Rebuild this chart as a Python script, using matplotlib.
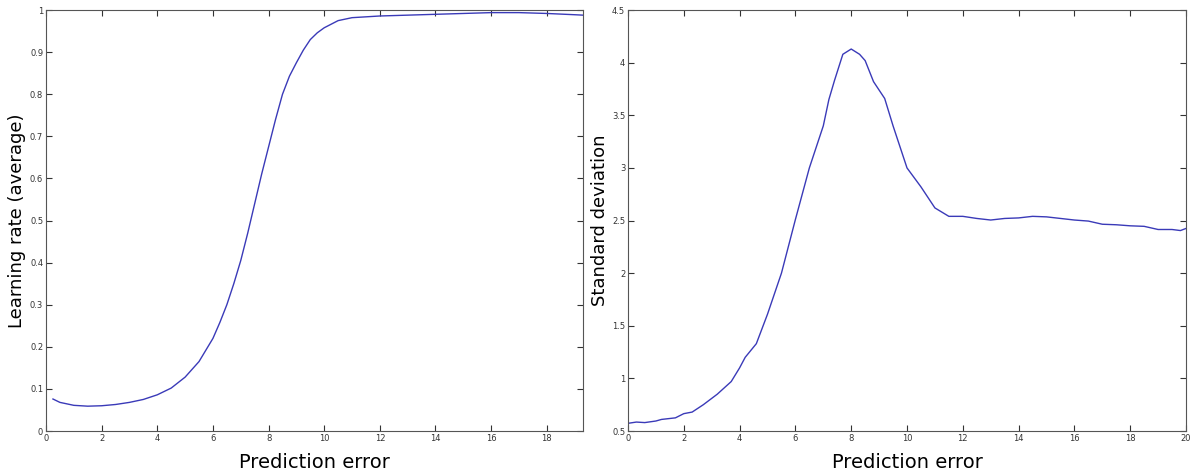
import matplotlib.pyplot as plt
import numpy as np

# left panel: average learning rate vs prediction error
lr_x = [0.25, 0.5, 1, 1.5, 2, 2.5, 3, 3.5, 4, 4.5, 5, 5.5, 6, 6.25, 6.5, 6.75,
        7, 7.25, 7.5, 7.75, 8, 8.25, 8.5, 8.75, 9, 9.25, 9.5, 9.75, 10, 10.5,
        11, 12, 13, 14, 15, 16, 17, 18, 19, 19.3]
lr_y = [0.076, 0.068, 0.061, 0.059, 0.060, 0.063, 0.068, 0.075, 0.086, 0.102,
        0.128, 0.165, 0.22, 0.258, 0.30, 0.35, 0.405, 0.47, 0.54, 0.61, 0.675,
        0.74, 0.80, 0.843, 0.875, 0.905, 0.93, 0.946, 0.958, 0.975, 0.982,
        0.986, 0.988, 0.990, 0.992, 0.994, 0.994, 0.992, 0.989, 0.988]

# right panel: standard deviation vs prediction error
sd_x = [0, 0.3, 0.6, 1.0, 1.2, 1.7, 2.0, 2.3, 2.7, 3.2, 3.7, 4.0, 4.2, 4.6,
        5.0, 5.5, 6.0, 6.5, 7.0, 7.2, 7.4, 7.7, 8.0, 8.3, 8.5, 8.8, 9.2, 9.5,
        10, 10.5, 11, 11.5, 12, 12.5, 13, 13.5, 14, 14.5, 15, 15.5, 16, 16.5,
        17, 17.5, 18, 18.5, 19, 19.5, 19.8, 20]
sd_y = [0.573, 0.585, 0.58, 0.595, 0.61, 0.625, 0.665, 0.68, 0.75, 0.85, 0.97,
        1.1, 1.2, 1.33, 1.61, 2.0, 2.51, 3.0, 3.4, 3.65, 3.83, 4.08, 4.13,
        4.08, 4.02, 3.82, 3.66, 3.4, 3.0, 2.82, 2.62, 2.54, 2.54, 2.52, 2.505,
        2.52, 2.525, 2.54, 2.535, 2.52, 2.505, 2.495, 2.465, 2.46, 2.45,
        2.445, 2.415, 2.415, 2.405, 2.425]

lr_ticks = np.arange(0, 1.01, 0.1)
lr_labels = ['0', '0.1', '0.2', '0.3', '0.4', '0.5', '0.6', '0.7', '0.8', '0.9', '1']
sd_ticks = np.arange(0.5, 4.51, 0.5)
sd_labels = ['0.5', '1', '1.5', '2', '2.5', '3', '3.5', '4', '4.5']

line_color = '#3a3ab8'

fig = plt.figure(figsize=(11.98, 4.74), dpi=100)
ax1 = fig.add_axes([0.0384, 0.0907, 0.4482, 0.888])
ax2 = fig.add_axes([0.5242, 0.0907, 0.4658, 0.888])


def style(ax):
    ax.tick_params(direction='in', top=True, right=True, length=4,
                   width=0.8, labelsize=6, pad=2, colors='#333333')
    for s in ax.spines.values():
        s.set_color('#555555')
        s.set_linewidth(0.8)


ax1.plot(lr_x, lr_y, color=line_color, lw=1)
ax1.set_xlim(0, 19.3)
ax1.set_ylim(0, 1)
ax1.set_xticks(np.arange(0, 19, 2))
ax1.set_yticks(lr_ticks)
ax1.set_yticklabels(lr_labels)
ax1.set_xlabel('Prediction error', fontsize=14, labelpad=7)
ax1.set_ylabel('Learning rate (average)', fontsize=13, labelpad=3)
style(ax1)

ax2.plot(sd_x, sd_y, color=line_color, lw=1)
ax2.set_xlim(0, 20)
ax2.set_ylim(0.5, 4.5)
ax2.set_xticks(np.arange(0, 21, 2))
ax2.set_yticks(sd_ticks)
ax2.set_yticklabels(sd_labels)
ax2.set_xlabel('Prediction error', fontsize=14, labelpad=7)
ax2.set_ylabel('Standard deviation', fontsize=13, labelpad=2)
style(ax2)

fig.savefig('out.png', dpi=100)
